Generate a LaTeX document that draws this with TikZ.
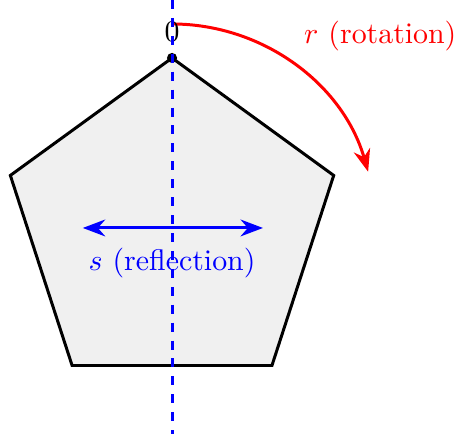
\documentclass[tikz,border=0pt]{standalone}
\usepackage{amsmath,amssymb}
\usetikzlibrary{arrows.meta,positioning}

\begin{document}
\begin{tikzpicture}[line width=1pt,>=Stealth]

    % --- Canvas (fixes the margins) ---
    \useasboundingbox (-2.024,-2.424) rectangle (3.388,2.682);

    % --- Key coordinates ---
    \coordinate (Centre) at (0,0);
    \foreach \k in {0,...,4} {
        \coordinate (V\k) at ({90-72*\k}:2);
    }
    \coordinate (ArcStart) at (90:2.4);
    \coordinate (ReflL) at (-1.05,0);
    \coordinate (ReflR) at (1.07,0);
    \coordinate (AxisTop) at (0,2.682);
    \coordinate (AxisBot) at (0,-2.424);

    % --- Pentagon ---
    \filldraw[fill=black!6, draw=black] (V0) -- (V1) -- (V2) -- (V3) -- (V4) -- cycle;

    % --- Rotation ---
    \draw[->, red] (ArcStart) arc[start angle=90, end angle=16, radius=2.4];
    \node[red] (rlabel) at (2.45,2.26) {$r$ (rotation)};

    % --- Reflection ---
    \draw[<->, blue] (ReflL) -- (ReflR);
    \node[blue, below=1mm of Centre] (slabel) {$s$ (reflection)};

    % --- Vertex 0 ---
    \fill (V0) circle (1.7pt);
    \node (zero) at (0,2.31) {0};

    % --- Mirror axis ---
    \draw[dashed, blue] (AxisTop) -- (AxisBot);

\end{tikzpicture}
\end{document}
